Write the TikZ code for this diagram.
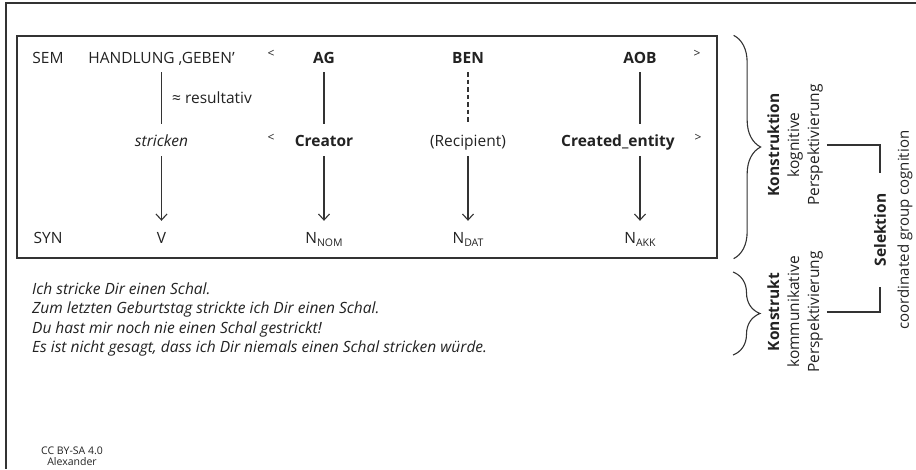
\documentclass[tikz,border=0pt]{standalone}
\usepackage{fontspec}
\setmainfont{Open Sans}
\usetikzlibrary{arrows.meta,decorations.pathreplacing}
\definecolor{ink}{HTML}{222222}
\definecolor{rule}{HTML}{333333}
\newcommand{\sbs}[1]{\raisebox{-3.5pt}{\fontsize{10.5}{10.5}\selectfont #1}}
\begin{document}
\begin{tikzpicture}[x=1pt,y=-1pt,
  every node/.style={inner sep=0pt, text=ink},
  lbl/.style={font=\fontsize{15.5}{19}\selectfont, anchor=base, text height=12pt, text depth=4pt},
  role/.style={lbl, font=\fontsize{15.5}{19}\selectfont\bfseries},
  itl/.style={lbl, font=\fontsize{15.5}{19}\selectfont\itshape},
  rel/.style={font=\fontsize{12}{12}\selectfont},
  sent/.style={font=\fontsize{15.5}{19}\selectfont\itshape, anchor=base west},
  side/.style={rotate=90, align=center, inner sep=4pt, font=\fontsize{15.5}{20}\selectfont},
  link/.style={draw=rule, line width=1.1pt, shorten <=5pt, shorten >=10pt},
  arr/.style={draw=rule, line width=1.1pt, shorten <=6pt, shorten >=10pt,
    -{Straight Barb[length=6pt,width=11pt,line width=1.1pt]}},
  brc/.style={draw=rule, line width=1.1pt, decorate, decoration={brace, amplitude=27pt, aspect=0.5}},
  conn/.style={draw=rule, line width=1.1pt}
]
\useasboundingbox (0,0) rectangle (916,469);
% outer frame
\draw[rule, line width=1.5pt] (916,3) -- (6,3) -- (6,469);
% frame of the construction
\node[draw=rule, line width=1.3pt, minimum width=700pt, minimum height=222pt] (box) at (367,147) {};

% semantic row
\node[lbl] (sem) at (48,63) {SEM};
\node[lbl] (hand) at (161.5,63) {HANDLUNG ‚GEBEN’};
\node[rel] (lta) at (271,54) {<};
\node[role] (ag) at (324,63) {AG};
\node[role] (ben) at (468,63) {BEN};
\node[role] (aob) at (640,63) {AOB};
\node[rel] (gta) at (697,54) {>};

% lexical row
\node[itl] (strk) at (161.5,146) {stricken};
\node[rel] (ltb) at (271,138) {<};
\node[role] (creator) at (324,146) {Creator};
\node[lbl] (recip) at (468,146) {(Recipient)};
\node[role] (centity) at (618,146) {Created\_entity};
\node[rel] (gtb) at (698,138) {>};
\node[lbl, anchor=base west] (res) at (172,103) {≈ resultativ};

% syntactic row
\node[lbl] (syn) at (48,243) {SYN};
\node[lbl] (v) at (161.5,243) {V};
\node[lbl] (nnom) at (324,243) {N\sbs{NOM}};
\node[lbl] (ndat) at (468,243) {N\sbs{DAT}};
\node[lbl] (nakk) at (640,243) {N\sbs{AKK}};

% links
\draw[link] (hand.south) -- (strk.north);
\draw[link] (ag.south) -- (creator.north);
\draw[link, dash pattern=on 4.5pt off 3pt] (ben.south) -- (recip.north);
\draw[link] (aob.south) -- (aob.south |- centity.north);
\draw[arr] (strk.south) -- (v.north);
\draw[arr] (creator.south) -- (nnom.north);
\draw[arr] (recip.south) -- (ndat.north);
\draw[arr] (aob.south |- centity.south) -- (nakk.north);

% example sentences
\node[sent] (s1) at (32,294) {Ich stricke Dir einen Schal.};
\node[sent] (s2) at (32,313.5) {Zum letzten Geburtstag strickte ich Dir einen Schal.};
\node[sent] (s3) at (32,333) {Du hast mir noch nie einen Schal gestrickt!};
\node[sent] (s4) at (32,352.5) {Es ist nicht gesagt, dass ich Dir niemals einen Schal stricken würde.};

% braces
\draw[brc] ([xshift=16pt]box.north east) -- ([xshift=16pt]box.south east);
\coordinate (btop) at (733,272);
\coordinate (bbot) at (733,355);
\draw[brc] (btop) -- (bbot);

% perspective labels
\node[side] (konst) at (795,145) {\textbf{Konstruktion}\\kognitive\\Perspektivierung};
\node[side] (kt) at (795,312) {\textbf{Konstrukt}\\kommunikative\\Perspektivierung};
\node[rotate=90, outer xsep=21pt, font=\fontsize{15.5}{19}\selectfont\bfseries] (sel) at (880,230) {Selektion};
\node[rotate=90, font=\fontsize{15}{19}\selectfont] (cgc) at (905,230) {coordinated group cognition};
\draw[conn] (konst.south) -| (sel.east);
\draw[conn] (kt.south) -| (sel.west);

% licence
\node[align=center, font=\fontsize{10.5}{11.5}\selectfont] (lic) at (72,456) {CC BY-SA 4.0\\Alexander};
\end{tikzpicture}
\end{document}
